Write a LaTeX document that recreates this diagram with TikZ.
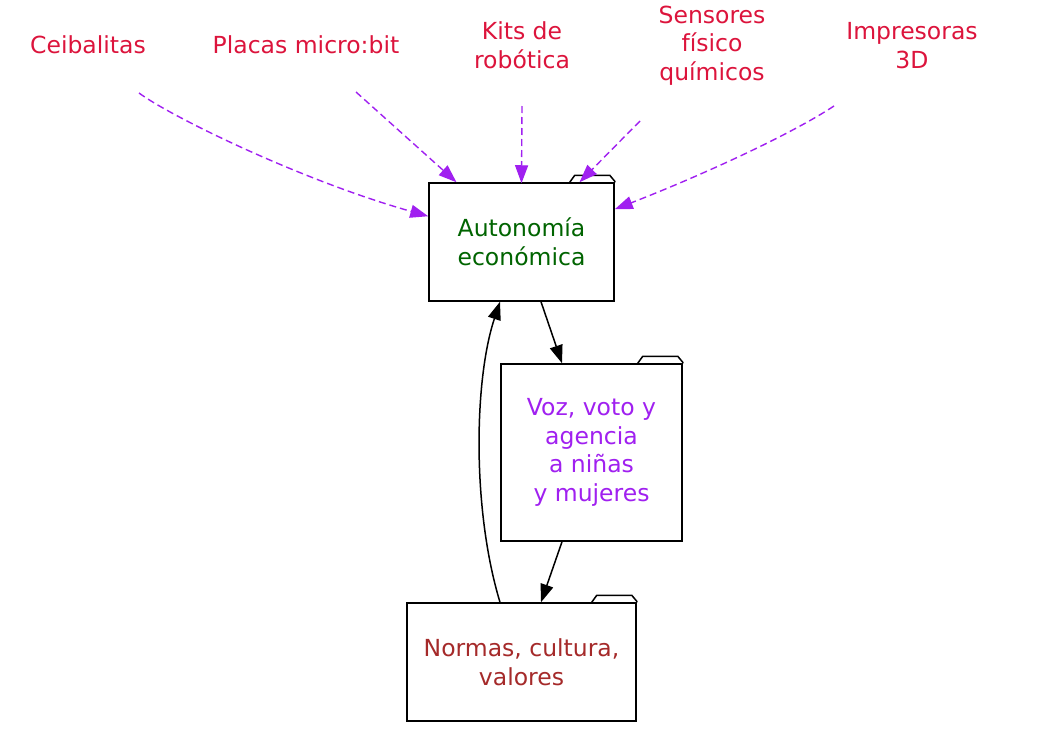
\documentclass[tikz,border=0pt]{standalone}
\usepackage{fontspec}
\setmainfont{DejaVu Sans}
\usetikzlibrary{arrows.meta}
\definecolor{gvcrimson}{HTML}{DC143C}
\definecolor{gvpurple}{HTML}{A020F0}
\definecolor{gvgreen}{HTML}{006400}
\definecolor{gvbrown}{HTML}{A52A2A}
\tikzset{
  txt/.style={font=\fontsize{23.5}{28.7}\selectfont, align=center, inner sep=0pt},
  lab/.style={txt, text=gvcrimson},
  folder/.style={txt, draw=black, line width=1.5pt, fill=white, inner sep=0pt},
  tab/.style={draw=black, line width=1.5pt, line join=round},
  dedge/.style={draw=gvpurple, line width=1.4pt, dash pattern=on 7pt off 4pt, -{Triangle[length=18pt,width=13pt,fill=gvpurple]}},
  bedge/.style={draw=black, line width=1.5pt, -{Triangle[length=18pt,width=13pt,fill=black]}}
}
\begin{document}
\begin{tikzpicture}[x=1pt,y=-1pt]
\useasboundingbox (0,0) rectangle (1047,739);
% top labels
\node[lab] (l1) at (88,45) {Ceibalitas};
\node[lab] (l2) at (306,45) {Placas micro:bit};
\node[lab] (l3) at (522,45.5) {Kits de\\robótica};
\node[lab] (l4) at (712,45.5) {Sensores\\físico\\químicos};
\node[lab] (l5) at (912,45.5) {Impresoras\\3D};
\coordinate (s1) at (139,93);
\coordinate (s2) at (356,92);
\coordinate (s3) at (522,106);
\coordinate (s4) at (640,121);
\coordinate (s5) at (834,106);
% folder nodes
\node[folder, minimum width=185pt, minimum height=118pt, text=gvgreen] (a) at (521.5,242) {Autonomía\\económica};
\node[folder, minimum width=181pt, minimum height=177pt, text=gvpurple] (b) at (591.5,452.5) {Voz, voto y\\agencia\\a niñas\\y mujeres};
\node[folder, minimum width=229pt, minimum height=118pt, text=gvbrown] (c) at (521.5,662) {Normas, cultura,\\valores};
% tabs
\foreach \n in {a,b,c}{
  \draw[tab] ([xshift=-45pt]\n.north east) -- ++(5,-7) -- ++(35,0) -- ++(5,6) -- (\n.north east);
}
% dashed purple edges
\draw[dedge] (s1) .. controls (170,116) and (300,180) .. ([yshift=-34pt]a.north west);
\draw[dedge] (s2) -- ([xshift=-65pt]a.north);
\draw[dedge] (s3) -- ([yshift=-1pt]a.north);
\draw[dedge] (s4) -- ([xshift=58pt]a.north);
\draw[dedge] (s5) .. controls (790,135) and (700,176) .. ([yshift=-27pt]a.north east);
% black edges
\draw[bedge] ([xshift=19.5pt]a.south) -- ([xshift=-29.5pt]b.north);
\draw[bedge] ([xshift=-29.5pt]b.south) -- ([xshift=19.5pt]c.north);
\draw[bedge] ([xshift=-21.5pt]c.north) .. controls (472,510) and (474,380) .. ([xshift=-21.5pt]a.south);
\end{tikzpicture}
\end{document}
